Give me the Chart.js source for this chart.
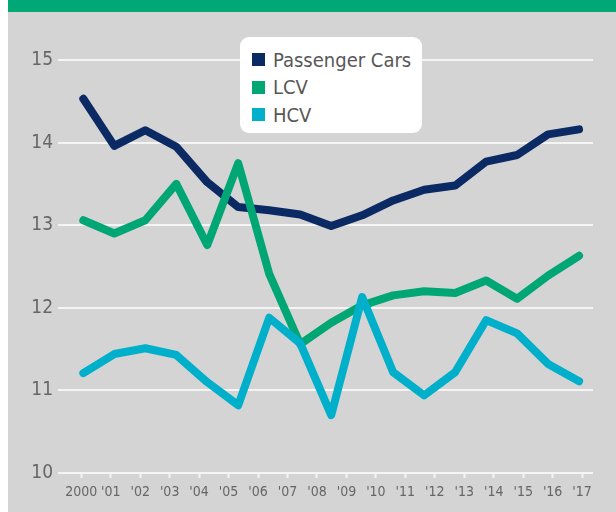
<!DOCTYPE html>
<html>
<head>
<meta charset="utf-8">
<script src="https://cdn.jsdelivr.net/npm/chart.js@4.4.0/dist/chart.umd.min.js"></script>
<style>
  html, body { margin:0; padding:0; background:#ffffff; }
  #wrap { position:relative; width:616px; height:512px; overflow:hidden; font-family:'Liberation Sans Narrow','DejaVu Sans Condensed',sans-serif; }
  #bg { position:absolute; left:8px; top:0; right:0; bottom:0; background:#d4d4d4; }
  #hdr { position:absolute; left:8px; top:0; right:0; height:12px; background:#00a876; }
  #c { position:absolute; left:0; top:0; }
  #legend { position:absolute; left:240px; top:37px; width:182px; height:96px; background:#ffffff; border-radius:9px; box-sizing:border-box; padding-top:9px; padding-left:12px; }
  .item { display:flex; align-items:center; height:27.5px; font-size:20px; color:#585858; white-space:nowrap; }
  .sw { width:13px; height:13px; margin-right:8px; flex:none; }
</style>
</head>
<body>
<div id="wrap">
  <div id="bg"></div>
  <div id="hdr"></div>
  <canvas id="c" width="616" height="512"></canvas>
  <div id="legend"></div>
</div>
<script>
const xLabels = ["2000","'01","'02","'03","'04","'05","'06","'07","'08","'09","'10","'11","'12","'13","'14","'15","'16","'17"];
const yTicks = [10, 11, 12, 13, 14, 15];
const seriesNames = ["Passenger Cars", "LCV", "HCV"];
const seriesColors = ["#0b2a64", "#00a673", "#00b0ca"];
const passengerCars = [14.53, 13.96, 14.15, 13.95, 13.52, 13.22, 13.18, 13.13, 12.99, 13.12, 13.30, 13.43, 13.48, 13.77, 13.85, 14.10, 14.16];
const lcv = [13.06, 12.90, 13.06, 13.50, 12.76, 13.75, 12.41, 11.56, 11.82, 12.03, 12.15, 12.20, 12.18, 12.33, 12.11, 12.39, 12.63];
const hcv = [11.21, 11.44, 11.51, 11.43, 11.10, 10.82, 11.88, 11.57, 10.70, 12.13, 11.22, 10.94, 11.22, 11.85, 11.69, 11.32, 11.11];

const FONT = "'Liberation Sans Narrow','DejaVu Sans Condensed',sans-serif";
Chart.defaults.font.family = FONT;

const allSeries = [passengerCars, lcv, hcv];
const datasets = allSeries.map((vals, k) => ({
  label: seriesNames[k],
  data: vals.map((v, i) => ({ x: i, y: v })),
  xAxisID: 'xd',
  yAxisID: 'y',
  borderColor: seriesColors[k],
  backgroundColor: seriesColors[k],
  borderWidth: 8,
  borderCapStyle: 'round',
  borderJoinStyle: 'round',
  pointRadius: 0,
  tension: 0,
  fill: false
})).reverse();

const chart = new Chart(document.getElementById('c'), {
  type: 'line',
  data: { datasets },
  options: {
    responsive: false,
    animation: false,
    layout: { padding: { left: 0, right: 23, top: 60, bottom: 0 } },
    plugins: { legend: { display: false }, tooltip: { enabled: false } },
    scales: {
      x: {
        type: 'linear', position: 'bottom', bounds: 'data',
        min: -0.79, max: 17.37,
        afterBuildTicks: s => { s.ticks = xLabels.map((_, i) => ({ value: i })); },
        afterFit: s => { s.height = 39; },
        ticks: { callback: v => xLabels[v], autoSkip: false, maxRotation: 0, font: { size: 14 }, color: '#666666', padding: 6 },
        grid: { drawOnChartArea: false, drawTicks: true, tickLength: 5, tickColor: '#f4f4f4', tickWidth: 2 },
        border: { display: false }
      },
      xd: { type: 'linear', display: false, bounds: 'data', min: -0.817, max: 16.45 },
      y: {
        min: yTicks[0], max: yTicks[yTicks.length - 1],
        afterBuildTicks: s => { s.ticks = yTicks.map(v => ({ value: v })); },
        afterFit: s => { s.width = 58; },
        ticks: { font: { size: 19 }, color: '#666666', padding: 5 },
        grid: { color: '#f4f4f4', lineWidth: 2, drawTicks: false },
        border: { display: false }
      }
    }
  }
});

const leg = document.getElementById('legend');
seriesNames.forEach((name, k) => {
  const it = document.createElement('div');
  it.className = 'item';
  const sw = document.createElement('span');
  sw.className = 'sw';
  sw.style.background = seriesColors[k];
  const tx = document.createElement('span');
  tx.textContent = name;
  it.appendChild(sw); it.appendChild(tx);
  leg.appendChild(it);
});
</script>
</body>
</html>
